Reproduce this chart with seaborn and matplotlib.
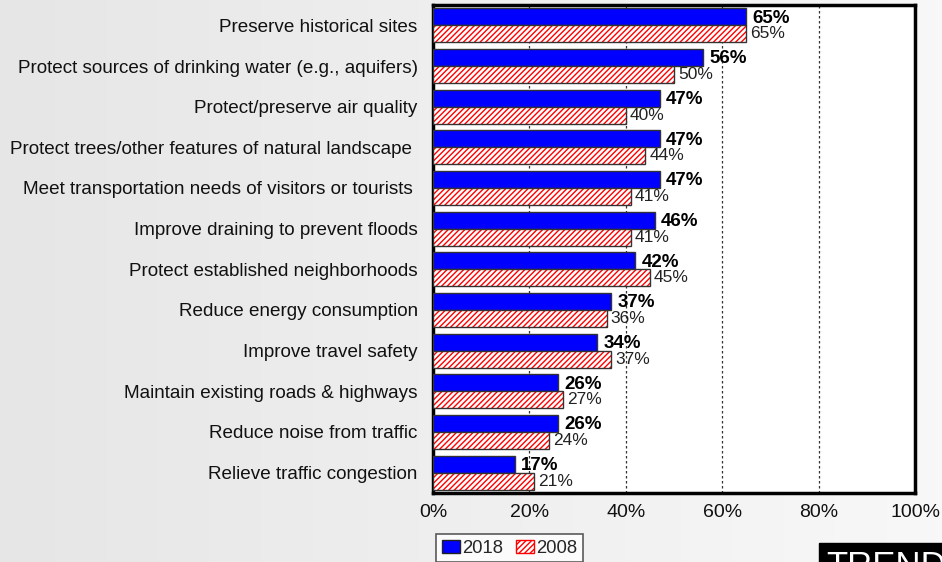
import matplotlib
matplotlib.use("Agg")
import matplotlib.pyplot as plt
import seaborn as sns
import pandas as pd
import numpy as np
from matplotlib.patches import Rectangle, Patch

categories = [
    "Preserve historical sites",
    "Protect sources of drinking water (e.g., aquifers)",
    "Protect/preserve air quality",
    "Protect trees/other features of natural landscape ",
    "Meet transportation needs of visitors or tourists ",
    "Improve draining to prevent floods",
    "Protect established neighborhoods",
    "Reduce energy consumption",
    "Improve travel safety",
    "Maintain existing roads & highways",
    "Reduce noise from traffic",
    "Relieve traffic congestion",
]
values_2018 = [65, 56, 47, 47, 47, 46, 42, 37, 34, 26, 26, 17]
values_2008 = [65, 50, 40, 44, 41, 41, 45, 36, 37, 27, 24, 21]
series = ["2018", "2008"]
xtick_vals = [0, 20, 40, 60, 80, 100]
xtick_labels = ["0%", "20%", "40%", "60%", "80%", "100%"]

df = pd.DataFrame({
    "category": categories * 2,
    "value": values_2018 + values_2008,
    "year": [series[0]] * len(categories) + [series[1]] * len(categories),
})

sns.set_theme(style="white")
plt.rcParams["font.family"] = ["Liberation Sans", "DejaVu Sans"]
plt.rcParams["hatch.linewidth"] = 1.0

fig = plt.figure(figsize=(9.42, 5.62), dpi=100)
# background gradient
grad = np.linspace(0, 1, 256).reshape(1, -1)
bg = fig.add_axes([0, 0, 1, 1], zorder=-10)
bg.imshow(grad, aspect="auto",
          cmap=matplotlib.colors.LinearSegmentedColormap.from_list("g", ["#e6e6e6", "#f8f8f8"]),
          extent=[0, 1, 0, 1])
bg.axis("off")

ax = fig.add_axes([433/942, 1-493/562, (915-433)/942, (493-5)/562])
ax.set_facecolor("white")

sns.barplot(data=df, y="category", x="value", hue="year", order=categories,
            hue_order=series, orient="h", width=0.84, palette=["#0000ff", "#ffffff"],
            saturation=1, edgecolor="#333333", linewidth=1.0, ax=ax, legend=False, zorder=3)

n = len(categories)
bars = [p for p in ax.patches if isinstance(p, Rectangle)]
blue_bars = bars[:n]
red_bars = bars[n:2*n]
for p in red_bars:
    p.set_facecolor("white")
    p.set_edgecolor("#ff0000")
    p.set_hatch("//////")
    p.set_linewidth(0)
    ax.add_patch(Rectangle((p.get_x(), p.get_y()), p.get_width(), p.get_height(),
                           fill=False, edgecolor="#333333", linewidth=1.0, zorder=4))

for p, v in zip(blue_bars, values_2018):
    ax.annotate(f"{v}%", (p.get_x() + p.get_width(), p.get_y() + p.get_height()/2),
                xytext=(4.5, -1), textcoords="offset points", va="center", ha="left",
                fontsize=13.5, fontweight="bold", color="black", zorder=6)
for p, v in zip(red_bars, values_2008):
    ax.annotate(f"{v}%", (p.get_x() + p.get_width(), p.get_y() + p.get_height()/2),
                xytext=(3, 0), textcoords="offset points", va="center", ha="left",
                fontsize=12.5, color="#222222", zorder=6)

ax.set_xlim(0, 100)
ax.set_ylim(n - 0.5, -0.5)
ax.set_xticks(xtick_vals)
ax.set_xticklabels(xtick_labels, fontsize=14)
ax.tick_params(axis="x", length=0, pad=8, colors="black")
ax.tick_params(axis="y", length=0, pad=11, labelsize=13.6)
for lab in ax.get_yticklabels():
    lab.set_color("#111111")
for lab in ax.get_xticklabels():
    lab.set_color("#111111")
ax.set_xlabel("")
ax.set_ylabel("")
ax.xaxis.grid(True, linestyle=(0, (2, 2)), color="#333333", linewidth=0.9, zorder=0)
ax.yaxis.grid(False)
ax.set_axisbelow(True)
for s in ax.spines.values():
    s.set_visible(True)
    s.set_color("black")
    s.set_linewidth(2.5)

handles = [Patch(facecolor="#0000ff", edgecolor="#222222"),
           Patch(facecolor="white", edgecolor="#ff0000", hatch="//////")]
leg = fig.legend(handles, series, loc="upper left", bbox_to_anchor=(436/942, 1-534/562),
                 ncol=2, fontsize=13.3, frameon=True, fancybox=False, handlelength=1.0,
                 handleheight=0.7, handletextpad=0.1, columnspacing=0.7,
                 borderpad=0.3, borderaxespad=0)
leg.get_frame().set_edgecolor("#333333")
leg.get_frame().set_linewidth(1.2)
leg.get_frame().set_facecolor("white")

fig.text(826/942, 1-550/562, "TREND", fontsize=25, color="white", va="top", ha="left",
         bbox=dict(facecolor="black", edgecolor="black", boxstyle="square,pad=0.2"))

fig.savefig("out.png", dpi=100, facecolor=fig.get_facecolor())
